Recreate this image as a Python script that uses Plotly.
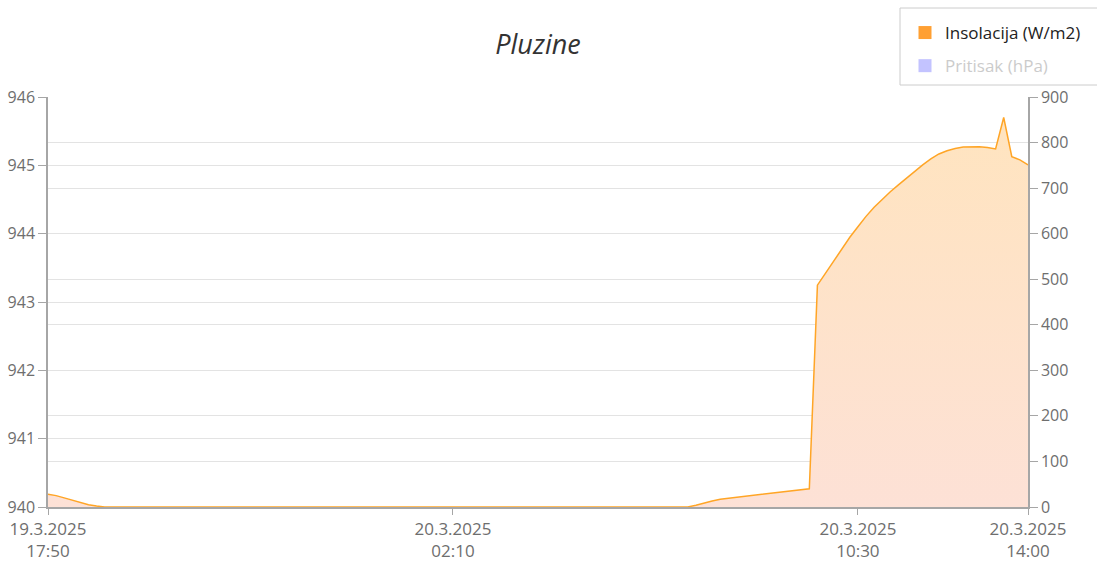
import pandas as pd
import plotly.graph_objects as go

# ---- data (10-minute readings) ----
times = pd.date_range("2025-03-19 17:50", "2025-03-20 14:00", freq="10min")

insolation = [
    # 17:50 - 18:50
    28, 25, 20, 15, 10, 5, 2,
    # 19:00 - 07:00 (night)
    0, 0, 0, 0, 0, 0, 0, 0, 0, 0, 0, 0,
    0, 0, 0, 0, 0, 0, 0, 0, 0, 0, 0, 0,
    0, 0, 0, 0, 0, 0, 0, 0, 0, 0, 0, 0,
    0, 0, 0, 0, 0, 0, 0, 0, 0, 0, 0, 0,
    0, 0, 0, 0, 0, 0, 0, 0, 0, 0, 0, 0,
    0, 0, 0, 0, 0, 0, 0, 0, 0, 0, 0, 0,
    0,
    # 07:10 - 09:30
    4, 9, 13, 17, 19, 21, 23, 25, 27, 29, 31, 33, 35, 37, 40,
    # 09:40 - 14:00
    487, 513, 540, 566, 592, 615, 638, 658, 676, 692, 707, 722, 737, 751,
    764, 775, 782, 787, 790, 791, 791, 789, 786, 855, 769, 762, 751,
]

pressure = [None]  # series hidden in the reference (legend only)

x_tick_vals = ["2025-03-19 17:50", "2025-03-20 02:10", "2025-03-20 10:30", "2025-03-20 14:00"]
x_tick_text = ["19.3.2025<br>17:50", "20.3.2025<br>02:10", "20.3.2025<br>10:30", "20.3.2025<br>14:00"]

left_ticks = [940, 941, 942, 943, 944, 945, 946]
right_ticks = [0, 100, 200, 300, 400, 500, 600, 700, 800, 900]

FONT = "Open Sans"
AXIS_COL = "#a6a6a6"
GRID_COL = "#e3e3e3"
TICK_FONT = dict(family=FONT, size=16, color="#6e6e6e")
XTICK_FONT = dict(family=FONT, size=17, color="#6e6e6e")

W, H = 1097, 561
PL, PR, PT, PB = 48, 1028, 97, 507  # plot area in screen pixels


def px_x(px):
    return (px - PL) / (PR - PL)


def px_y(py):
    return (PB - py) / (PB - PT)


fig = go.Figure()

fig.add_trace(go.Scatter(
    x=times, y=insolation, yaxis="y2", mode="lines",
    line=dict(color="#ffa526", width=1.5),
    fill="tozeroy",
    fillgradient=dict(type="vertical",
                      colorscale=[[0, "#fde1d6"], [1, "#ffe4bf"]]),
    showlegend=False, hoverinfo="x+y",
))

# legend entries (square icons)
fig.add_trace(go.Scatter(
    x=[None], y=[None], yaxis="y2", mode="markers",
    marker=dict(symbol="square", size=13, color="#ffa033"),
    name="Insolacija (W/m2)", legendgroup="a",
))
fig.add_trace(go.Scatter(
    x=[None] * len(pressure), y=pressure, yaxis="y", mode="markers",
    marker=dict(symbol="square", size=13, color="#8989ff"),
    name='<span style="color:#999999">Pritisak (hPa)</span>',
    legendgroup="b", visible="legendonly",
))

# legend frame (runs off the right edge as in the reference)
fig.add_shape(type="rect", xref="paper", yref="paper",
              x0=px_x(900), x1=px_x(1250), y0=px_y(85), y1=px_y(8),
              line=dict(color="#cccccc", width=1), fillcolor="white",
              layer="above")

fig.update_layout(
    width=W, height=H,
    margin=dict(l=PL, r=W - PR, t=PT, b=H - PB, autoexpand=False),
    paper_bgcolor="white", plot_bgcolor="white",
    font=dict(family=FONT, color="#333"),
    title=dict(text="<i>Pluzine</i>", x=0.5, xref="paper", xanchor="center",
               y=1 - 45 / H, yref="container", yanchor="middle",
               font=dict(family=FONT, size=27, color="#333333")),
    legend=dict(xref="container", yref="container",
                x=905 / W, xanchor="left",
                y=1 - 15 / H, yanchor="top",
                borderwidth=0, bgcolor="rgba(0,0,0,0)",
                font=dict(family=FONT, size=17, color="#222222"),
                traceorder="grouped", tracegroupgap=8,
                itemclick=False, itemdoubleclick=False),
    xaxis=dict(
        range=[x_tick_vals[0], x_tick_vals[-1]],
        tickmode="array", tickvals=x_tick_vals, ticktext=x_tick_text,
        showgrid=False, zeroline=False,
        showline=True, linecolor=AXIS_COL, linewidth=1.5,
        ticks="outside", ticklen=6, tickcolor=AXIS_COL,
        tickfont=XTICK_FONT,
    ),
    yaxis=dict(
        range=[940, 946], tickmode="array", tickvals=left_ticks,
        showgrid=True, gridcolor=GRID_COL, gridwidth=1.2, zeroline=False,
        showline=True, linecolor=AXIS_COL, linewidth=1.5,
        ticks="outside", ticklen=8, tickcolor=AXIS_COL,
        tickfont=TICK_FONT,
    ),
    yaxis2=dict(
        range=[0, 900], tickmode="array", tickvals=right_ticks,
        overlaying="y", side="right",
        showgrid=True, gridcolor=GRID_COL, gridwidth=1.2, zeroline=False,
        showline=True, linecolor=AXIS_COL, linewidth=1.5,
        ticks="outside", ticklen=8, tickcolor=AXIS_COL,
        tickfont=TICK_FONT,
    ),
)

fig.write_html(
    "out.html",
    config={"displayModeBar": False},
    post_script="document.body.style.margin='0';document.body.style.overflow='hidden';",
)
